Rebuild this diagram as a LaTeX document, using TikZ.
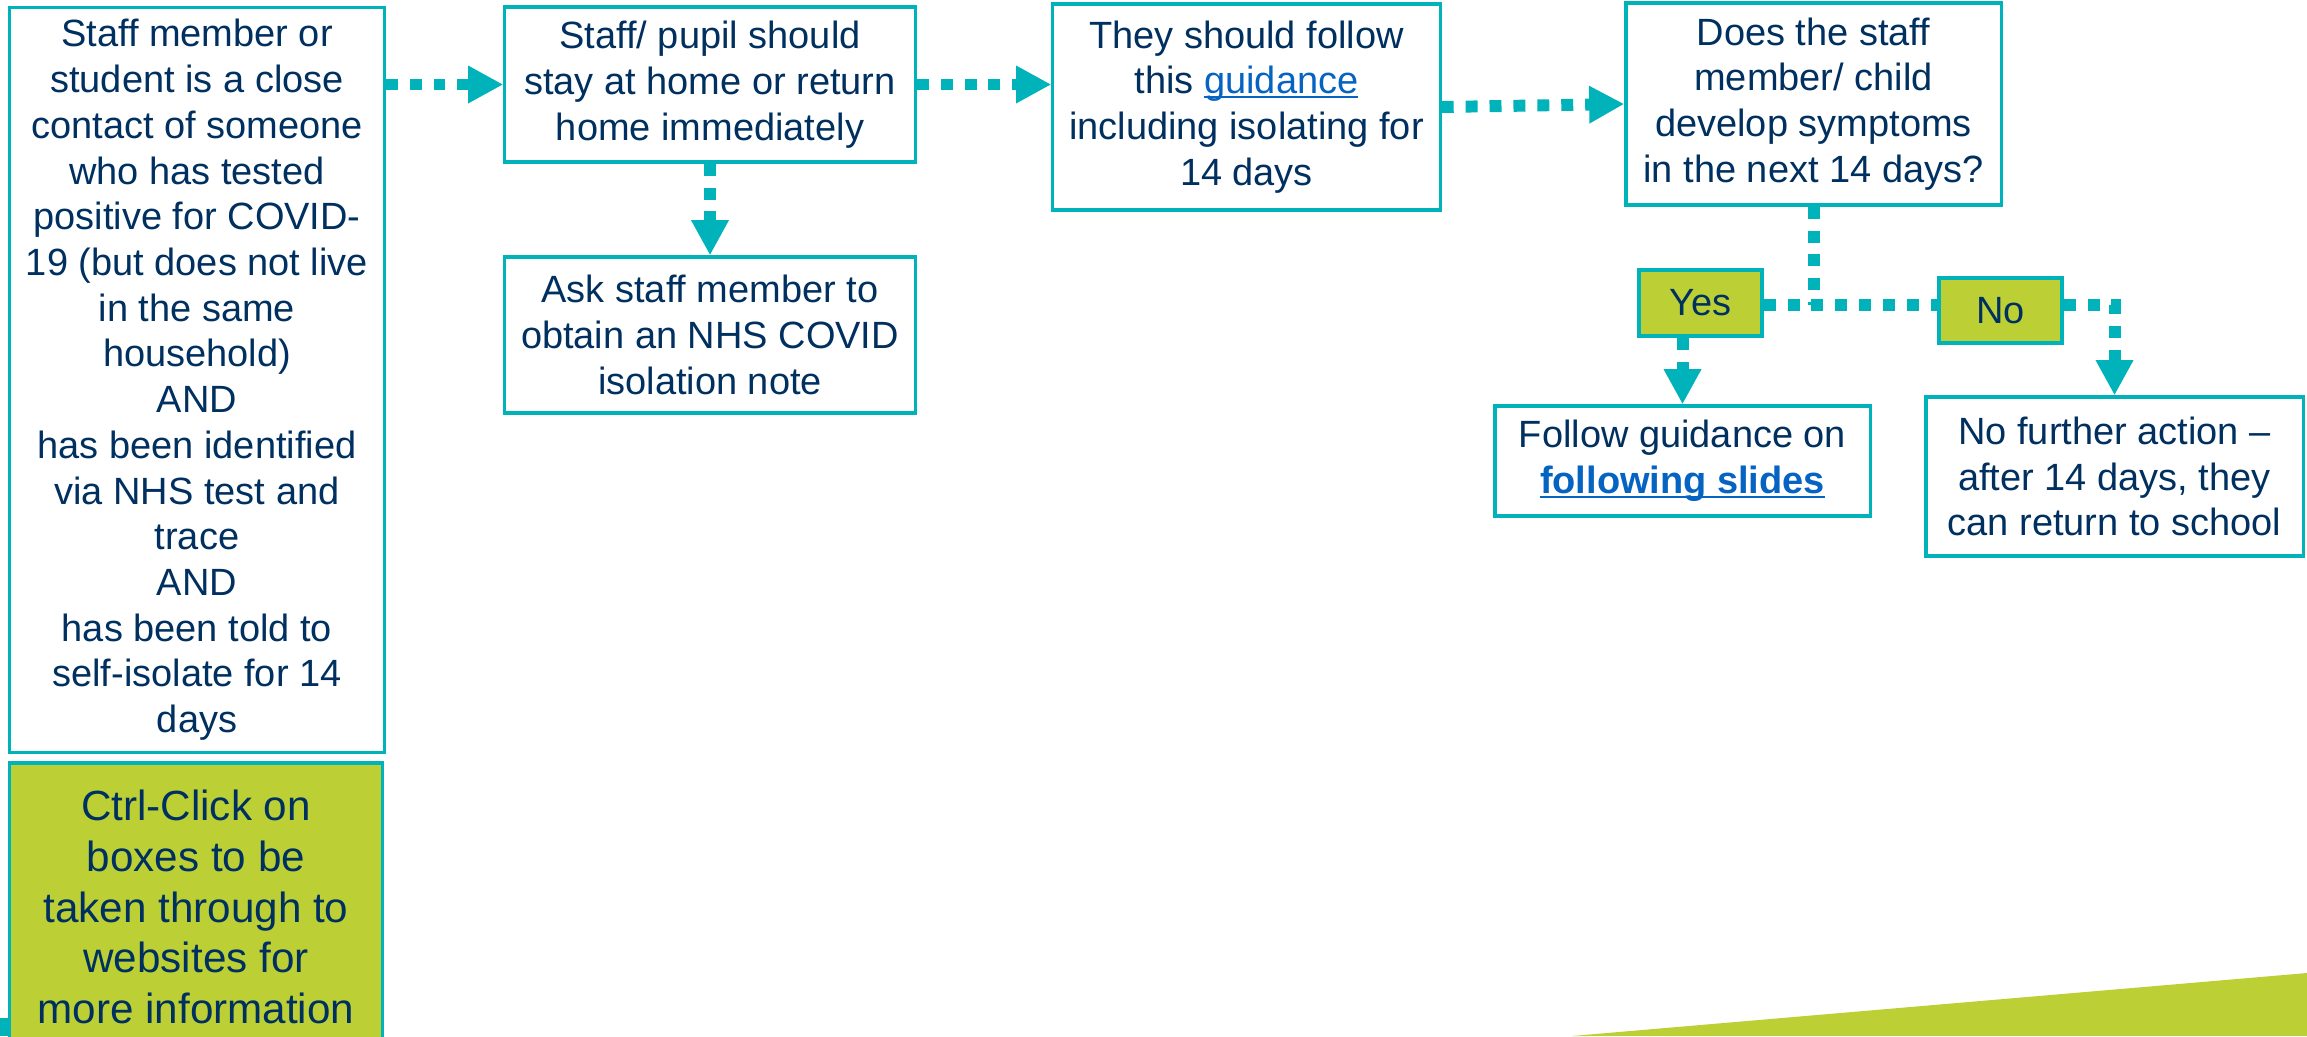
\documentclass[tikz,border=0pt]{standalone}
\usepackage{fontspec}
\setmainfont{Liberation Sans}
\usetikzlibrary{arrows.meta}

\definecolor{flowteal}{HTML}{00B2BA}
\definecolor{boxnavy}{HTML}{00305F}
\definecolor{notelime}{HTML}{BCD035}
\definecolor{linkblue}{HTML}{0563C1}
% underlined link text, line just under the baseline
\newcommand{\linkul}[1]{\setbox0\hbox{#1}\rlap{\rule[-1.2pt]{\wd0}{0.6pt}}\box0}

\begin{document}
\begin{tikzpicture}[x=0.01cm,y=-0.01cm,
    box/.style={draw=flowteal,line width=0.9pt,fill=white,text=boxnavy,align=center,
      inner sep=0pt,font=\fontsize{10.8}{13}\selectfont},
    choice/.style={box,fill=notelime},
    flow/.style={flowteal,line width=3.4pt,dash pattern=on 3.4pt off 3.4pt,
      -{Triangle[length=10pt,width=10pt]}}]
  \useasboundingbox (0,0) rectangle (2307,1036);
  % corner decorations
  \fill[notelime] (1572,1036) -- (2307,973) -- (2307,1036) -- cycle;
  \fill[flowteal] (0,1018) rectangle (8,1036);

  \node[box,minimum width=3.74cm,minimum height=7.45cm] (contact) at (197,380)
    {Staff member or\\student is a close\\contact of someone\\who has tested\\positive for COVID-\\19 (but does not live\\in the same\\household)\\AND\\has been identified\\via NHS test and\\trace\\AND\\has been told to\\self-isolate for 14\\days};
  \node[choice,minimum width=3.72cm,minimum height=2.88cm,font=\fontsize{12}{14.4}\selectfont] (note) at (196,907)
    {Ctrl-Click on\\boxes to be\\taken through to\\websites for\\more information};
  \node[box,minimum width=4.1cm,minimum height=1.55cm] (home) at (710,84.5)
    {Staff/ pupil should\\stay at home or return\\home immediately};
  \node[box,minimum width=4.1cm,minimum height=1.56cm] (isonote) at (710,335)
    {Ask staff member to\\obtain an NHS COVID\\isolation note};
  \node[box,minimum width=3.87cm,minimum height=2.06cm] (guide) at (1246.5,107)
    {They should follow\\this \textcolor{linkblue}{\linkul{guidance}}\\including isolating for\\14 days};
  \node[box,minimum width=3.75cm,minimum height=2.02cm] (symptoms) at (1813.5,104)
    {Does the staff\\member/ child\\develop symptoms\\in the next 14 days?};
  \node[choice,minimum width=1.23cm,minimum height=0.66cm] (yes) at (1700.5,303) {Yes};
  \node[choice,minimum width=1.23cm,minimum height=0.65cm] (no) at (2000.5,310.5) {No};
  \node[box,minimum width=3.75cm,minimum height=1.1cm] (slides) at (1682.5,461)
    {Follow guidance on\\\textcolor{linkblue}{\linkul{\textbf{following slides}}}};
  \node[box,minimum width=3.77cm,minimum height=1.59cm] (noaction) at (2114.5,476.5)
    {No further action --\\after 14 days, they\\can return to school};

  \coordinate (split) at (1813.5,305);
  \begin{scope}[flow]
    \draw (contact.east |- home.west) -- (home.west);
    \draw (home.south) -- (isonote.north);
    \draw (home.east) -- (guide.west |- home.east);
    \draw (guide.east) -- (symptoms.west);
    \draw[-] (symptoms.south) -- (split);
    \draw[-] (yes.east |- split) -- (no.west |- split);
    \draw (no.east |- split) -| (noaction.north);
    \draw (slides.north |- yes.south) -- (slides.north);
  \end{scope}
\end{tikzpicture}
\end{document}
